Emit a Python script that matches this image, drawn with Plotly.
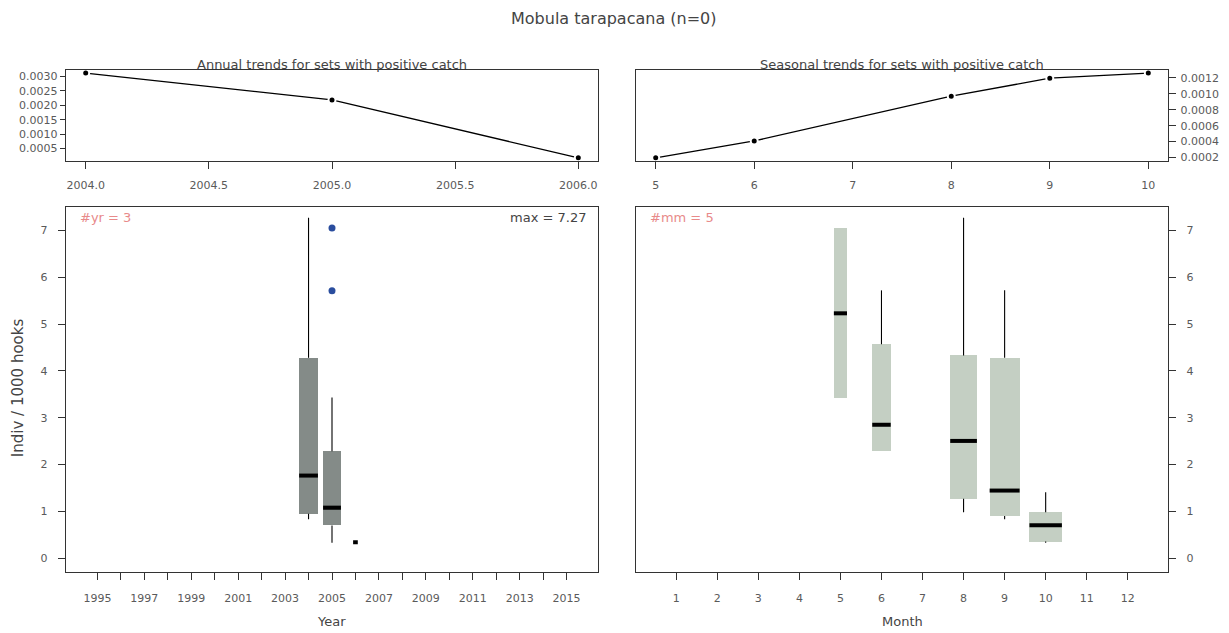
import plotly.graph_objects as go

# ---------------- data ----------------
annual_years = [2004, 2005, 2006]
annual_vals = [0.00311, 0.00218, 0.00018]

season_months = [5, 6, 8, 9, 10]
season_vals = [0.000196, 0.000408, 0.000970, 0.001196, 0.00126]

year_pos = [2004, 2005, 2006]
year_min = [0.83, 0.33, 0.34]
year_q1 = [0.95, 0.70, 0.34]
year_med = [1.765, 1.08, 0.34]
year_q3 = [4.28, 2.285, 0.34]
year_max = [7.27, 3.43, 0.34]
year_width = [0.80, 0.76, 0.20]
year_out_x = [2005, 2005]
year_out_y = [7.05, 5.71]

month_pos = [5, 6, 8, 9, 10]
month_min = [3.43, 2.285, 0.98, 0.83, 0.33]
month_q1 = [3.43, 2.285, 1.27, 0.90, 0.356]
month_med = [5.23, 2.85, 2.505, 1.445, 0.705]
month_q3 = [7.05, 4.57, 4.33, 4.28, 0.98]
month_max = [7.05, 5.72, 7.27, 5.72, 1.41]
month_width = [0.32, 0.45, 0.65, 0.73, 0.79]

year_ticks = list(range(1995, 2016))
year_ticklabels = [str(y) if y % 2 == 1 else "" for y in year_ticks]
month_ticks = list(range(1, 13))
annual_xticks = [2004.0, 2004.5, 2005.0, 2005.5, 2006.0]
annual_yticks = [0.0005, 0.0010, 0.0015, 0.0020, 0.0025, 0.0030]
season_yticks = [0.0002, 0.0004, 0.0006, 0.0008, 0.0010, 0.0012]
box_yticks = [0, 1, 2, 3, 4, 5, 6, 7]

W, H = 1229, 633
FONT = "DejaVu Sans"
TXT = "#5a5a5a"
AX = "#333333"


def pad(lo, hi, f=0.04):
    s = hi - lo
    return [lo - f * s, hi + f * s]


def px_x(a, b):
    return [a / W, b / W]


def px_y(top, bottom):
    return [1 - bottom / H, 1 - top / H]


fig = go.Figure()

# top-left annual line
fig.add_trace(go.Scatter(
    x=annual_years, y=annual_vals, mode="lines+markers", xaxis="x", yaxis="y",
    line=dict(color="black", width=1.3),
    marker=dict(color="black", size=7, line=dict(color="white", width=2)),
    showlegend=False, hoverinfo="skip"))

# top-right seasonal line
fig.add_trace(go.Scatter(
    x=season_months, y=season_vals, mode="lines+markers", xaxis="x2", yaxis="y2",
    line=dict(color="black", width=1.3),
    marker=dict(color="black", size=7, line=dict(color="white", width=2)),
    showlegend=False, hoverinfo="skip"))


def add_boxes(pos, mn, q1, med, q3, mx, wid, color, xa, ya):
    wx, wy = [], []
    for p, a, b, c, d in zip(pos, mn, q1, q3, mx):
        wx += [p, p, None, p, p, None]
        wy += [c, d, None, b, a, None]
    fig.add_trace(go.Scatter(x=wx, y=wy, mode="lines", xaxis=xa, yaxis=ya,
                             line=dict(color="black", width=1.1),
                             showlegend=False, hoverinfo="skip"))
    fig.add_trace(go.Bar(x=pos, y=[d - b for b, d in zip(q1, q3)], base=q1,
                         width=wid, xaxis=xa, yaxis=ya,
                         marker=dict(color=color, line=dict(width=0)),
                         showlegend=False, hoverinfo="skip"))
    mxs, mys = [], []
    for p, m, w in zip(pos, med, wid):
        mxs += [p - w / 2, p + w / 2, None]
        mys += [m, m, None]
    fig.add_trace(go.Scatter(x=mxs, y=mys, mode="lines", xaxis=xa, yaxis=ya,
                             line=dict(color="black", width=4),
                             showlegend=False, hoverinfo="skip"))


add_boxes(year_pos, year_min, year_q1, year_med, year_q3, year_max, year_width,
          "#848b88", "x3", "y3")
fig.add_trace(go.Scatter(x=year_out_x, y=year_out_y, mode="markers", xaxis="x3", yaxis="y3",
                         marker=dict(color="#2a4d9e", size=7),
                         showlegend=False, hoverinfo="skip"))
add_boxes(month_pos, month_min, month_q1, month_med, month_q3, month_max, month_width,
          "#c4cfc3", "x4", "y4")

common = dict(showline=True, linecolor=AX, linewidth=1.4, mirror=True,
              ticks="outside", ticklen=7, tickcolor=AX, tickwidth=1.2,
              showgrid=False, zeroline=False,
              tickfont=dict(family=FONT, size=11, color=TXT))

fig.update_layout(
    width=W, height=H, margin=dict(l=0, r=0, t=0, b=0),
    paper_bgcolor="white", plot_bgcolor="white",
    barmode="overlay", bargap=0,
    font=dict(family=FONT, color=TXT),
    xaxis=dict(domain=px_x(66, 598), range=pad(2004, 2006), anchor="y",
               tickvals=annual_xticks, tickformat=".1f", ticklabelstandoff=6, **common),
    yaxis=dict(domain=px_y(70, 162), range=pad(min(annual_vals), max(annual_vals)), anchor="x",
               tickvals=annual_yticks, tickformat=".4f", ticklen=5,
               **{k: v for k, v in common.items() if k != "ticklen"}),
    xaxis2=dict(domain=px_x(636, 1168), range=pad(5, 10), anchor="y2",
                tickvals=[5, 6, 7, 8, 9, 10], ticklabelstandoff=6, **common),
    yaxis2=dict(domain=px_y(70, 162), range=pad(min(season_vals), max(season_vals)), anchor="x2",
                side="right", tickvals=season_yticks, tickformat=".4f", ticklabelstandoff=2, **common),
    xaxis3=dict(domain=px_x(66, 598), range=pad(1994.5, 2015.5), anchor="y3",
                tickvals=year_ticks, ticktext=year_ticklabels, ticklabelstandoff=8, **common),
    yaxis3=dict(domain=px_y(208, 575), range=[-0.3, 7.5], anchor="x3",
                tickvals=box_yticks, ticklabelstandoff=8, **common),
    xaxis4=dict(domain=px_x(636, 1168), range=pad(0.5, 12.5), anchor="y4",
                tickvals=month_ticks, ticklabelstandoff=8, **common),
    yaxis4=dict(domain=px_y(208, 575), range=[-0.3, 7.5], anchor="x4",
                side="right", tickvals=box_yticks, ticklabelstandoff=8, **common),
)


def ann(text, x, y, size, color=TXT, xanchor="center", yanchor="middle", angle=0):
    fig.add_annotation(text=text, x=x / W, y=1 - y / H, xref="paper", yref="paper",
                       showarrow=False, xanchor=xanchor, yanchor=yanchor, textangle=angle,
                       font=dict(family=FONT, size=size, color=color))


ann("Mobula tarapacana (n=0)", 614, 19, 16, color="#444444")
ann("Annual trends for sets with positive catch", 332, 65, 13, color="#444444")
ann("Seasonal trends for sets with positive catch", 902, 65, 13, color="#444444")
ann("Indiv / 1000 hooks", 18, 390, 15, color="#444444", angle=-90)
ann("Year", 332, 624, 13, color="#444444")
ann("Month", 902, 624, 13, color="#444444")
ann("#yr = 3", 78, 219, 13, color="#e88a8a", xanchor="left")
ann("max = 7.27", 588, 219, 13, color="#444444", xanchor="right")
ann("#mm = 5", 648, 219, 13, color="#e88a8a", xanchor="left")

fig.write_html("out.html", config={"displayModeBar": False},
               post_script="document.body.style.margin='0';document.body.style.overflow='hidden';")
